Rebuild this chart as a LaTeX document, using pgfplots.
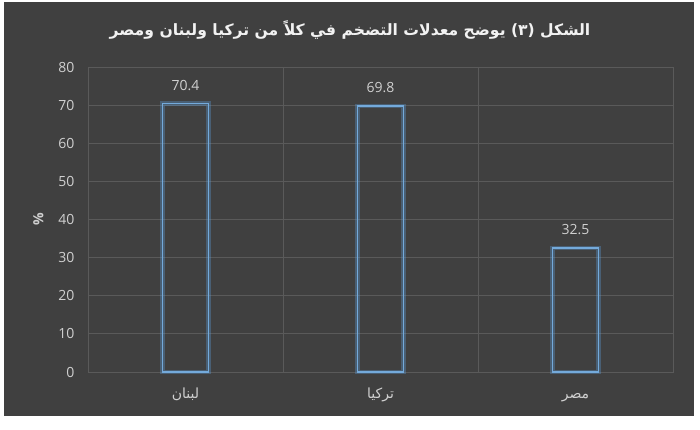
\documentclass[border=0pt]{standalone}
\usepackage{fontspec}
\usepackage{pgfplots}
\pgfplotsset{compat=1.18}
\setmainfont{Open Sans}
\newfontfamily\arabicfont[Script=Arabic]{DejaVu Sans}
\TeXXeTstate=1
\definecolor{bg}{HTML}{404040}
\definecolor{gridc}{HTML}{5A5A5A}
\definecolor{txt}{HTML}{D0D0D0}
\definecolor{barc}{HTML}{5B9BD5}
\begin{document}
\begin{tikzpicture}[x=1pt,y=1pt]
\fill[white] (0,0) rectangle (700,429);
\fill[bg] (4,13) rectangle (694,427);
\node[text=white!95!black, font=\arabicfont\bfseries\fontsize{15.6}{19}\selectfont] at (350,399) {\beginR الشكل (٣) يوضح معدلات التضخم في كلاً من تركيا ولبنان ومصر\endR};
\begin{axis}[
  at={(88pt,57pt)}, anchor=south west,
  scale only axis, width=585pt, height=305pt,
  xmin=-0.5, xmax=2.5, ymin=0, ymax=80,
  ytick={0,10,...,80},
  xtick={0,1,2},
  xticklabels={{\arabicfont\beginR لبنان\endR},{\arabicfont\beginR تركيا\endR},{\arabicfont\beginR مصر\endR}},
  minor xtick={0.5,1.5},
  xminorgrids, ymajorgrids,
  grid style={gridc, line width=1pt},
  minor grid style={gridc, line width=1pt},
  axis line style={gridc, line width=1pt},
  major tick length=0pt, minor tick length=0pt,
  tick style={draw=none},
  /pgf/number format/assume math mode=true,
  ticklabel style={text=txt, font=\fontsize{14}{16}\selectfont},
  yticklabel style={xshift=-10pt},
  xticklabel style={anchor=north, text height=11pt, text depth=4pt, yshift=-12pt},
  ylabel={\%},
  ylabel style={text=txt, font=\bfseries\fontsize{14}{16}\selectfont, yshift=8pt},
  ybar, bar width=46pt, bar shift=0pt,
  clip=false,
]
\addplot[draw=barc, draw opacity=0.35, line width=4.5pt, fill=none] coordinates {(0,70.4) (1,69.8) (2,32.5)};
\addplot[draw=barc!85!white, line width=1.5pt, fill=none,
  nodes near coords, nodes near coords style={text=txt, font=\fontsize{14}{16}\selectfont, anchor=south, yshift=9pt},
  point meta=explicit symbolic] coordinates {(0,70.4)[70.4] (1,69.8)[69.8] (2,32.5)[32.5]};
\end{axis}
\end{tikzpicture}
\end{document}
